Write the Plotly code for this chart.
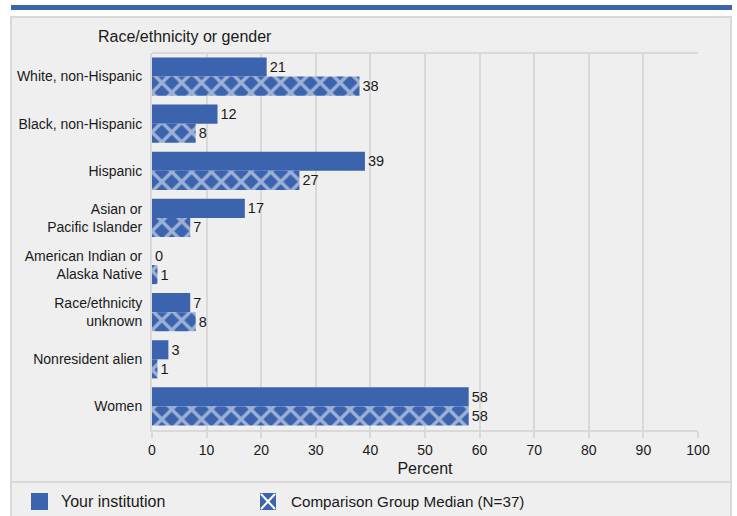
import plotly.graph_objects as go

categories = [
    "White, non-Hispanic",
    "Black, non-Hispanic",
    "Hispanic",
    "Asian or<br>Pacific Islander",
    "American Indian or<br>Alaska Native",
    "Race/ethnicity<br>unknown",
    "Nonresident alien",
    "Women",
]
your_institution = [21, 12, 39, 17, 0, 7, 3, 58]
comparison_median = [38, 8, 27, 7, 1, 8, 1, 58]
x_ticks = [0, 10, 20, 30, 40, 50, 60, 70, 80, 90, 100]

BLUE = "#3b63ae"
GRID = "#d9d9d9"
PANEL = "#efefef"
TXT = "#1a1a1a"
FONT = "Liberation Sans, Arial, sans-serif"

FW, FH = 737, 516
L, R, T, B = 152, 39, 53, 86
W, H = FW - L - R, FH - T - B


def px(x):
    return (x - L) / W


def py(y):
    return (FH - B - y) / H


fig = go.Figure()
fig.add_trace(go.Bar(
    y=categories, x=your_institution, orientation="h",
    name="Your institution",
    marker=dict(color=BLUE, line=dict(width=0)),
    text=[str(v) for v in your_institution], textposition="outside",
    textfont=dict(size=14.5, color=TXT, family=FONT), cliponaxis=False,
    showlegend=False,
))
fig.add_trace(go.Bar(
    y=categories, x=comparison_median, orientation="h",
    name="Comparison Group Median (N=37)",
    marker=dict(color=BLUE, line=dict(width=0),
                pattern=dict(shape="x", fgcolor="white", bgcolor=BLUE,
                             size=14, solidity=0.42)),
    text=[str(v) for v in comparison_median], textposition="outside",
    textfont=dict(size=14.5, color=TXT, family=FONT), cliponaxis=False,
    showlegend=False,
))

shapes = [
    dict(type="rect", xref="paper", yref="paper", x0=px(11), x1=px(732), y0=py(5), y1=py(10),
         fillcolor=BLUE, line=dict(width=0), layer="below"),
    dict(type="rect", xref="paper", yref="paper", x0=px(11), x1=px(731), y0=py(17), y1=py(482),
         fillcolor=PANEL, line=dict(color=GRID, width=2), layer="below"),
    dict(type="rect", xref="paper", yref="paper", x0=px(11), x1=px(731), y0=py(482), y1=py(520),
         fillcolor=PANEL, line=dict(color=GRID, width=2), layer="below"),
    dict(type="line", xref="paper", yref="paper", x0=0, x1=1, y0=1, y1=1,
         line=dict(color=GRID, width=2), layer="below"),
    dict(type="rect", xref="paper", yref="paper", x0=px(31), x1=px(48), y0=py(493), y1=py(510),
         fillcolor=BLUE, line=dict(width=0)),
    dict(type="rect", xref="paper", yref="paper", x0=px(260), x1=px(276), y0=py(493), y1=py(510),
         fillcolor=BLUE, line=dict(width=0)),
    dict(type="line", xref="paper", yref="paper", x0=px(261), x1=px(275), y0=py(494), y1=py(509),
         line=dict(color="white", width=2)),
    dict(type="line", xref="paper", yref="paper", x0=px(261), x1=px(275), y0=py(509), y1=py(494),
         line=dict(color="white", width=2)),
]

annotations = [
    dict(text="Race/ethnicity or gender", xref="paper", yref="paper", x=px(96), y=py(37),
         xanchor="left", yanchor="middle", showarrow=False,
         font=dict(size=16, color=TXT, family=FONT)),
    dict(text="Your institution", xref="paper", yref="paper", x=px(59), y=py(501),
         xanchor="left", yanchor="middle", showarrow=False,
         font=dict(size=16, color=TXT, family=FONT)),
    dict(text="Comparison Group Median (N=37)", xref="paper", yref="paper", x=px(289), y=py(501),
         xanchor="left", yanchor="middle", showarrow=False,
         font=dict(size=15.2, color=TXT, family=FONT)),
]

fig.update_layout(
    width=FW, height=FH,
    margin=dict(l=L, r=R, t=T, b=B, pad=0),
    paper_bgcolor="white", plot_bgcolor="rgba(0,0,0,0)",
    barmode="group", bargap=0.19, bargroupgap=0,
    font=dict(family=FONT, color=TXT),
    shapes=shapes, annotations=annotations,
    xaxis=dict(range=[0, 100], tickvals=x_ticks, ticktext=[str(v) for v in x_ticks],
               showgrid=True, gridcolor=GRID, gridwidth=2, zeroline=False,
               showline=True, linecolor=GRID, linewidth=2,
               ticks="outside", ticklen=6, tickwidth=2, tickcolor=GRID,
               tickfont=dict(size=14, color=TXT, family=FONT),
               title=dict(text="Percent", font=dict(size=16, color=TXT, family=FONT), standoff=6),
               fixedrange=True),
    yaxis=dict(autorange="reversed", showgrid=False, zeroline=False,
               showline=True, linecolor=GRID, linewidth=2,
               ticks="", ticklabelstandoff=5,
               tickfont=dict(size=14, color=TXT, family=FONT), fixedrange=True),
)

fig.write_html("out.html", config={"displayModeBar": False},
               post_script="document.body.style.margin='0';")
